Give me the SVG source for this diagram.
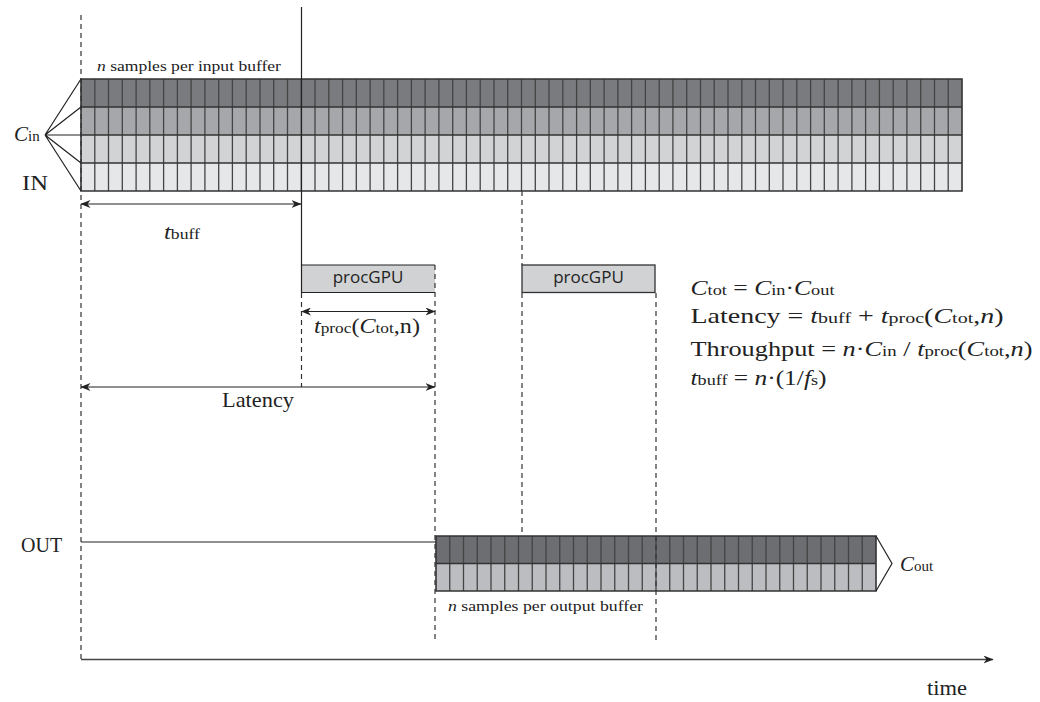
<svg xmlns="http://www.w3.org/2000/svg" width="1040" height="702" viewBox="0 0 1040 702">
<defs>
<marker id="ah" viewBox="0 0 10 8" refX="9.5" refY="4" markerWidth="10" markerHeight="8" markerUnits="userSpaceOnUse" orient="auto-start-reverse">
<path d="M0,0 L10,4 L0,8 L3,4 z" fill="#222"/>
</marker>
<style>
.serif{font-family:"Liberation Serif","DejaVu Serif",serif;fill:#222}
.it{font-style:italic}
.sans{font-family:"Open Sans","Liberation Sans",sans-serif;fill:#222;font-size:17px}
.grid{stroke:#444;stroke-width:1.3;fill:none}
.rowline{stroke:#333;stroke-width:1.6;fill:none}
.dash{stroke:#333;stroke-width:1.2;stroke-dasharray:5 4;fill:none}
.solid{stroke:#222;stroke-width:1.2;fill:none}
.arr{stroke:#222;stroke-width:1.2;fill:none;marker-start:url(#ah);marker-end:url(#ah)}
.box{fill:#d1d2d4;stroke:#333;stroke-width:1.3}
</style>
</defs>
<rect width="1040" height="702" fill="#fff"/>

<g id="input-buffer">
<rect x="81" y="79" width="881" height="28" fill="#7a7b7e"/>
<rect x="81" y="107" width="881" height="28" fill="#a6a7aa"/>
<rect x="81" y="135" width="881" height="28" fill="#d2d3d5"/>
<rect x="81" y="163" width="881" height="28" fill="#e6e7e8"/>
<path class="grid" d="M94.8,79V191 M108.5,79V191 M122.3,79V191 M136.1,79V191 M149.8,79V191 M163.6,79V191 M177.4,79V191 M191.1,79V191 M204.9,79V191 M218.7,79V191 M232.4,79V191 M246.2,79V191 M260,79V191 M273.7,79V191 M287.5,79V191 M301.3,79V191 M315,79V191 M328.8,79V191 M342.6,79V191 M356.3,79V191 M370.1,79V191 M383.8,79V191 M397.6,79V191 M411.4,79V191 M425.1,79V191 M438.9,79V191 M452.7,79V191 M466.4,79V191 M480.2,79V191 M494,79V191 M507.7,79V191 M521.5,79V191 M535.3,79V191 M549,79V191 M562.8,79V191 M576.6,79V191 M590.3,79V191 M604.1,79V191 M617.9,79V191 M631.6,79V191 M645.4,79V191 M659.2,79V191 M672.9,79V191 M686.7,79V191 M700.5,79V191 M714.2,79V191 M728,79V191 M741.8,79V191 M755.5,79V191 M769.3,79V191 M783,79V191 M796.8,79V191 M810.6,79V191 M824.3,79V191 M838.1,79V191 M851.9,79V191 M865.6,79V191 M879.4,79V191 M893.2,79V191 M906.9,79V191 M920.7,79V191 M934.5,79V191 M948.2,79V191"/>
<path class="rowline" d="M81,79H962V191H81Z M81,107H962 M81,135H962 M81,163H962"/>
<text class="serif" x="97" y="71" font-size="15.5" textLength="184" lengthAdjust="spacingAndGlyphs"><tspan class="it">n</tspan> samples per input buffer</text>
</g>

<g id="cin-label">
<path class="solid" d="M81,79L45,135L81,107 M45,135L81,135 M81,163L45,135L81,191"/>
<text class="serif" x="14" y="141" font-size="21"><tspan class="it">C</tspan><tspan font-size="15">in</tspan></text>
<text class="serif" x="22" y="190" font-size="20" textLength="26" lengthAdjust="spacingAndGlyphs">IN</text>
</g>

<g id="output-buffer">
<rect x="436" y="536" width="440" height="27.5" fill="#6d6e71"/>
<rect x="436" y="563.5" width="440" height="27.5" fill="#bcbdc0"/>
<path class="grid" d="M449.75,536V591 M463.5,536V591 M477.25,536V591 M491,536V591 M504.75,536V591 M518.5,536V591 M532.25,536V591 M546,536V591 M559.75,536V591 M573.5,536V591 M587.25,536V591 M601,536V591 M614.75,536V591 M628.5,536V591 M642.25,536V591 M656,536V591 M669.75,536V591 M683.5,536V591 M697.25,536V591 M711,536V591 M724.75,536V591 M738.5,536V591 M752.25,536V591 M766,536V591 M779.75,536V591 M793.5,536V591 M807.25,536V591 M821,536V591 M834.75,536V591 M848.5,536V591 M862.25,536V591"/>
<path class="rowline" d="M436,536H876V591H436Z M436,563.5H876"/>
<path class="solid" d="M876,536L892,563.5L876,591"/>
<text class="serif" x="900" y="571" font-size="21"><tspan class="it">C</tspan><tspan font-size="15">out</tspan></text>
<text class="serif" x="448" y="611" font-size="15.5" textLength="195" lengthAdjust="spacingAndGlyphs"><tspan class="it">n</tspan> samples per output buffer</text>
<path class="solid" d="M81,542H436"/>
<text class="serif" x="21" y="552" font-size="20">OUT</text>
</g>

<g id="proc1">
<path d="M301.5,265H435V292.5H301.5Z" fill="#d1d2d4"/>
<path class="solid" stroke="#333" stroke-width="1.3" d="M435,265H301.5V292.5H435"/>
<text class="sans" x="368" y="283" text-anchor="middle">procGPU</text>
</g>

<g id="proc2">
<rect class="box" x="522" y="265" width="133" height="27.5"/>
<text class="sans" x="588.5" y="283" text-anchor="middle">procGPU</text>
</g>

<g id="connectors">
<path class="dash" d="M81,15V660"/>
<path class="solid" d="M301.5,7V265"/>
<path class="dash" d="M301.5,293V387"/>
<path class="dash" d="M435,265V640"/>
<path class="dash" d="M522,191V265 M522,293V536"/>
<path class="dash" d="M656,293V640"/>
<path class="arr" d="M81,204H301"/>
<path class="arr" d="M301.5,311.5H435"/>
<path class="arr" d="M81,387H435"/>
<path stroke="#444" stroke-width="1.5" fill="none" marker-end="url(#ah)" d="M81,659.5H993"/>
</g>

<g id="labels">
<text class="serif" x="164" y="239" font-size="21" textLength="36" lengthAdjust="spacingAndGlyphs"><tspan class="it">t</tspan><tspan font-size="15">buff</tspan></text>
<text class="serif" x="314" y="333" font-size="21" textLength="106" lengthAdjust="spacingAndGlyphs"><tspan class="it">t</tspan><tspan font-size="15">proc</tspan>(<tspan class="it">C</tspan><tspan font-size="15">tot</tspan>,n)</text>
<text class="serif" x="258" y="407" font-size="21" text-anchor="middle" textLength="72" lengthAdjust="spacingAndGlyphs">Latency</text>
<text class="serif" x="927" y="695" font-size="20" textLength="40" lengthAdjust="spacingAndGlyphs">time</text>
</g>

<g id="formulas" class="serif" font-size="21">
<text x="690.5" y="295" textLength="144" lengthAdjust="spacingAndGlyphs"><tspan class="it">C</tspan><tspan font-size="15">tot</tspan> = <tspan class="it">C</tspan><tspan font-size="15">in</tspan>·<tspan class="it">C</tspan><tspan font-size="15">out</tspan></text>
<text x="690.5" y="323" textLength="313" lengthAdjust="spacingAndGlyphs">Latency = <tspan class="it">t</tspan><tspan font-size="15">buff</tspan> + <tspan class="it">t</tspan><tspan font-size="15">proc</tspan>(<tspan class="it">C</tspan><tspan font-size="15">tot</tspan>,<tspan class="it">n</tspan>)</text>
<text x="690.5" y="356" textLength="342" lengthAdjust="spacingAndGlyphs">Throughput = <tspan class="it">n</tspan>·<tspan class="it">C</tspan><tspan font-size="15">in</tspan> / <tspan class="it">t</tspan><tspan font-size="15">proc</tspan>(<tspan class="it">C</tspan><tspan font-size="15">tot</tspan>,<tspan class="it">n</tspan>)</text>
<text x="690.5" y="385" textLength="136" lengthAdjust="spacingAndGlyphs"><tspan class="it">t</tspan><tspan font-size="15">buff</tspan> = <tspan class="it">n</tspan>·(1/<tspan class="it">f</tspan><tspan font-size="15">s</tspan>)</text>
</g>
</svg>
